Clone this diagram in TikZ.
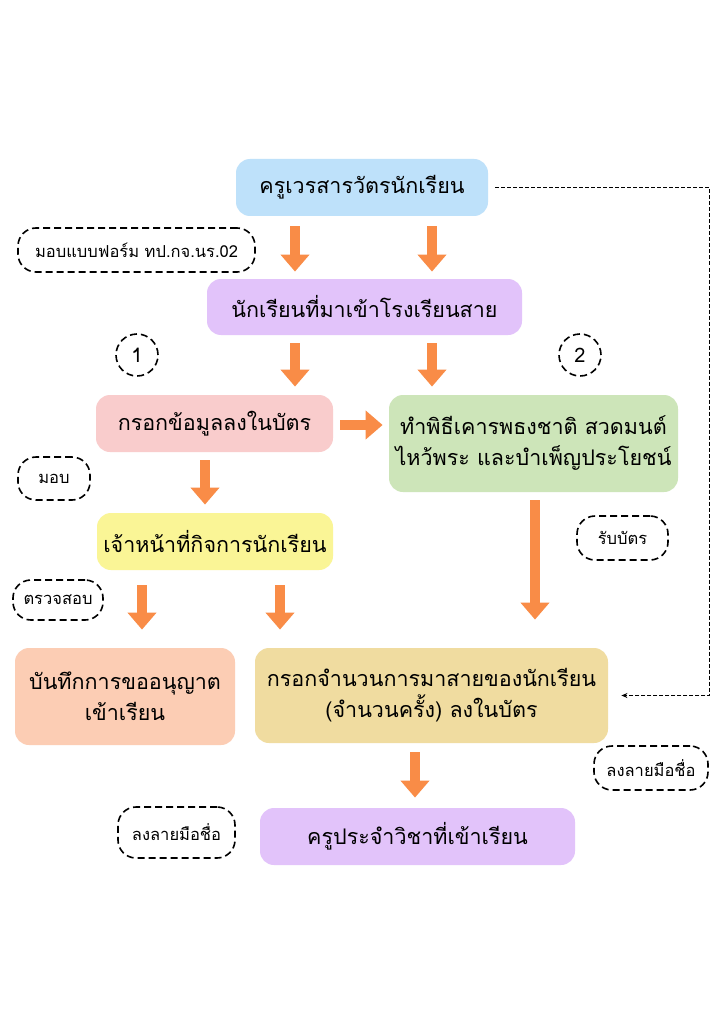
\documentclass[tikz,border=0pt]{standalone}
\usepackage{fontspec}
\newfontfamily\thaifont[Script=Thai]{Loma}
\usetikzlibrary{arrows.meta}
\definecolor{arrorange}{HTML}{F98C47}
\definecolor{crewblue}{HTML}{BEE1FA}
\definecolor{lilac}{HTML}{E2C3FA}
\definecolor{rosy}{HTML}{F9CCCC}
\definecolor{sage}{HTML}{CDE5B9}
\definecolor{lemon}{HTML}{FAF596}
\definecolor{peach}{HTML}{FCCDB4}
\definecolor{sand}{HTML}{F0DCA0}

\begin{document}
\begin{tikzpicture}[x=1pt,y=-1pt,thick,
    box/.style={rounded corners=14pt,inner sep=0pt,align=center,font=\thaifont\fontsize{21.5}{31}\selectfont},
    tag/.style={draw,dash pattern=on 7pt off 4pt,line width=1.6pt,rounded corners=18pt,inner sep=0pt,font=\thaifont\fontsize{16.5}{19}\selectfont},
    num/.style={draw,circle,dash pattern=on 7pt off 4pt,line width=1.6pt,minimum size=42pt,inner sep=0pt,font=\thaifont\fontsize{20}{22}\selectfont},
    fat/.style={draw=arrorange,line width=10pt,-{Triangle[width=28pt,length=17pt]}},
    link/.style={line width=1.4pt,dash pattern=on 4pt off 2pt,-{Stealth[length=6pt,width=5pt]}}]

	\useasboundingbox[fill=white] (0,0) rectangle (724,1024);

	\node[box,fill=crewblue,minimum width=252pt,minimum height=57pt] (crew) at (362,187.5) {ครูเวรสารวัตรนักเรียน};
	\node[box,fill=lilac,minimum width=315pt,minimum height=56pt] (late) at (364.5,307) {นักเรียนที่มาเข้าโรงเรียนสาย};
	\node[box,fill=rosy,minimum width=237pt,minimum height=57pt] (fill) at (214.5,423.5) {กรอกข้อมูลลงในบัตร};
	\node[box,fill=sage,minimum width=289pt,minimum height=97pt] (rite) at (533.5,443.5) {ทำพิธีเคารพธงชาติ สวดมนต์\\ไหว้พระ และบำเพ็ญประโยชน์};
	\node[box,fill=lemon,minimum width=236pt,minimum height=57pt] (staff) at (215,541.5) {เจ้าหน้าที่กิจการนักเรียน};
	\node[box,fill=peach,minimum width=220pt,minimum height=97pt] (note) at (125,696.5) {บันทึกการขออนุญาต\\เข้าเรียน};
	\node[box,fill=sand,minimum width=353pt,minimum height=95pt] (count) at (431.5,695.5) {กรอกจำนวนการมาสายของนักเรียน\\(จำนวนครั้ง) ลงในบัตร};
	\node[box,fill=lilac,minimum width=315pt,minimum height=57pt] (subj) at (417.5,836.5) {ครูประจำวิชาที่เข้าเรียน};

	\node[tag,minimum width=237pt,minimum height=44pt] (form) at (136.5,250) {มอบแบบฟอร์ม ทป.กจ.นร.02};
	\node[tag,minimum width=72pt,minimum height=43pt] (give) at (54,478.5) {มอบ};
	\node[tag,minimum width=91pt,minimum height=44pt] (recv) at (622.5,538) {รับบัตร};
	\node[tag,minimum width=90pt,minimum height=40pt] (check) at (58,600) {ตรวจสอบ};
	\node[tag,minimum width=114pt,minimum height=44pt] (sign1) at (651,768) {ลงลายมือชื่อ};
	\node[tag,minimum width=117pt,minimum height=51pt] (sign2) at (176.5,832.5) {ลงลายมือชื่อ};

	\node[num] (one) at (137,355) {1};
	\node[num] (two) at (580,355) {2};

	% orange arrows
	\draw[fat,shorten <=10pt,shorten >=7pt] ([xshift=-67pt]crew.south) -- ([xshift=-67pt]crew.south |- late.north);
	\draw[fat,shorten <=10pt,shorten >=7pt] ([xshift=70pt]crew.south) -- ([xshift=70pt]crew.south |- late.north);
	\draw[fat,shorten <=8pt,shorten >=8pt] ([xshift=-69.5pt]late.south) -- ([xshift=-69.5pt]late.south |- fill.north);
	\draw[fat,shorten <=8pt,shorten >=8pt] ([xshift=67.5pt]late.south) -- ([xshift=67.5pt]late.south |- rite.north);
	\draw[fat,shorten <=7pt,shorten >=6pt] ([yshift=-1.5pt]fill.east) -- ([yshift=-1.5pt]fill.east -| rite.west);
	\draw[fat,shorten <=8pt,shorten >=8pt] ([xshift=-9.5pt]fill.south) -- ([xshift=-9.5pt]fill.south |- staff.north);
	\draw[fat,shorten <=8pt,shorten >=28pt] ([xshift=1.5pt]rite.south) -- ([xshift=1.5pt]rite.south |- count.north);
	\draw[fat,shorten <=15pt,shorten >=18pt] ([xshift=-73pt]staff.south) -- ([xshift=-73pt]staff.south |- note.north);
	\draw[fat,shorten <=15pt,shorten >=18pt] ([xshift=65pt]staff.south) -- ([xshift=65pt]staff.south |- count.north);
	\draw[fat,shorten <=9pt,shorten >=10pt] ([xshift=-16.5pt]count.south) -- ([xshift=-16.5pt]count.south |- subj.north);

	% dashed return line
	\draw[link,shorten >=13pt] ([xshift=7pt]crew.east) -| ([xshift=101pt]count.east) -- (count.east);
\end{tikzpicture}
\end{document}
